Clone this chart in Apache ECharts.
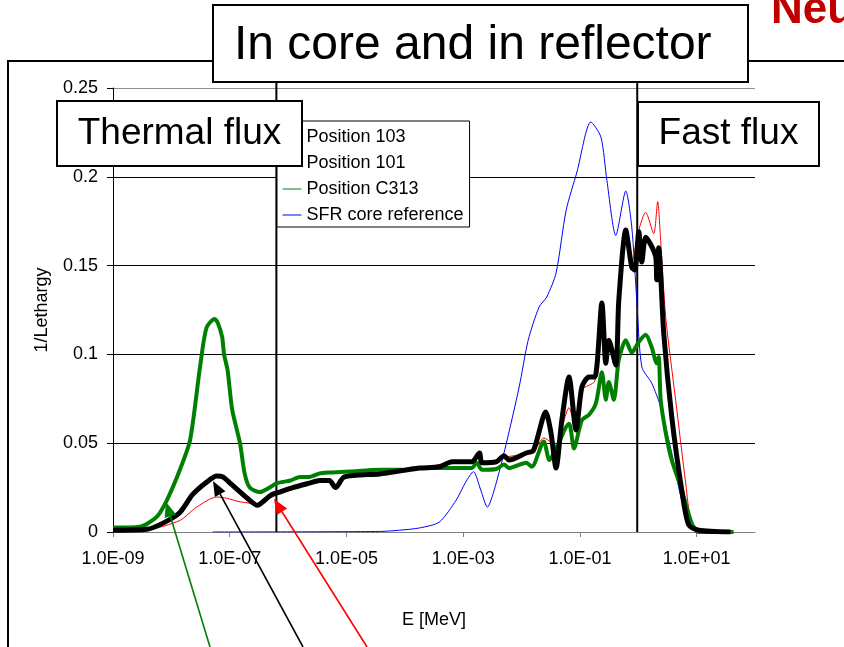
<!DOCTYPE html>
<html><head><meta charset="utf-8">
<script src="https://cdn.jsdelivr.net/npm/echarts@6/dist/echarts.min.js"></script>
<style>html,body{margin:0;padding:0;background:#fff}#c{width:844px;height:647px}</style>
</head><body><div id="c"></div>
<script>
// ---- data (E in MeV, flux per unit lethargy) ----
const seriesNames = ['Position 103', 'Position 101', 'Position C313', 'SFR core reference'];
const xTickValues = [1e-9, 1e-7, 1e-5, 1e-3, 1e-1, 1e1];
const yTickStep = 0.05;

const pos103E = [1.0e-9, 3.8e-9, 1.4e-8, 2.7e-8, 6.0e-8, 8.9e-8, 1.5e-7, 2.9e-7, 4.3e-7, 6.4e-7, 1.2e-6, 2.3e-6, 5.1e-6, 6.5e-6, 9.2e-6, 3.7e-5, 8.1e-5, 1.8e-4, 6.5e-4, 1.4e-3, 1.9e-3, 2.1e-3, 5.0e-3, 1.2e-2, 1.6e-2, 2.4e-2, 3.2e-2, 3.9e-2, 4.9e-2, 6.5e-2, 8.6e-2, 0.108, 0.180, 0.238, 0.278, 0.313, 0.412, 0.464, 0.611, 0.774, 1.02, 1.34, 1.84, 2.15, 2.42, 2.95, 4.38, 6.49, 8.22, 12.2, 38.1];
const pos103V = [0.0, 0.001, 0.0065, 0.014, 0.0197, 0.019, 0.017, 0.016, 0.018, 0.021, 0.024, 0.027, 0.0285, 0.025, 0.0305, 0.032, 0.034, 0.0355, 0.039, 0.039, 0.044, 0.0385, 0.042, 0.044, 0.045, 0.053, 0.05, 0.038, 0.058, 0.070, 0.057, 0.080, 0.085, 0.115, 0.095, 0.108, 0.095, 0.13, 0.165, 0.152, 0.170, 0.180, 0.168, 0.186, 0.164, 0.121, 0.074, 0.0276, 0.005, 0.001, 0.0];

const pos101E = [1.0e-9, 3.8e-9, 7.2e-9, 1.4e-8, 2.3e-8, 4.0e-8, 6.0e-8, 7.6e-8, 1.1e-7, 2.0e-7, 3.0e-7, 3.7e-7, 5.2e-7, 7.2e-7, 1.2e-6, 2.3e-6, 3.5e-6, 5.1e-6, 6.5e-6, 9.2e-6, 3.7e-5, 8.1e-5, 1.8e-4, 3.9e-4, 6.5e-4, 1.4e-3, 1.9e-3, 2.1e-3, 3.7e-3, 5.0e-3, 6.1e-3, 1.2e-2, 1.6e-2, 2.6e-2, 3.2e-2, 3.9e-2, 4.9e-2, 6.5e-2, 8.6e-2, 0.108, 0.143, 0.180, 0.238, 0.278, 0.313, 0.412, 0.464, 0.611, 0.774, 0.871, 1.02, 1.15, 1.34, 1.99, 2.07, 2.24, 2.73, 3.74, 5.55, 7.30, 10.8, 38.1];
const pos101V = [0.001, 0.0015, 0.005, 0.011, 0.021, 0.028, 0.0315, 0.031, 0.0265, 0.019, 0.015, 0.017, 0.021, 0.0225, 0.025, 0.0275, 0.029, 0.029, 0.025, 0.031, 0.0327, 0.0343, 0.036, 0.0367, 0.0395, 0.0395, 0.0445, 0.039, 0.0395, 0.043, 0.0405, 0.0445, 0.046, 0.0676, 0.0557, 0.036, 0.063, 0.0873, 0.0574, 0.0816, 0.0873, 0.0873, 0.129, 0.095, 0.108, 0.094, 0.1306, 0.170, 0.149, 0.1475, 0.169, 0.152, 0.166, 0.155, 0.142, 0.160, 0.112, 0.065, 0.0237, 0.004, 0.001, 0.0];

const posC313E = [1.0e-9, 2.9e-9, 5.6e-9, 8.4e-9, 1.4e-8, 2.1e-8, 3.1e-8, 4.0e-8, 5.5e-8, 6.2e-8, 7.4e-8, 8.0e-8, 9.2e-8, 1.1e-7, 1.5e-7, 1.8e-7, 2.2e-7, 3.3e-7, 4.8e-7, 6.4e-7, 1.1e-6, 1.6e-6, 2.3e-6, 3.5e-6, 5.1e-6, 1.1e-5, 3.7e-5, 8.1e-5, 1.8e-4, 1.4e-3, 1.7e-3, 2.1e-3, 3.7e-3, 5.0e-3, 6.1e-3, 1.2e-2, 1.5e-2, 2.4e-2, 3.0e-2, 3.6e-2, 6.5e-2, 7.9e-2, 0.108, 0.143, 0.188, 0.238, 0.278, 0.313, 0.381, 0.464, 0.611, 0.774, 1.02, 1.34, 1.70, 2.07, 2.24, 2.42, 2.95, 3.74, 5.55, 8.22, 10.8, 16.0, 42.9];
const posC313V = [0.0025, 0.003, 0.0085, 0.018, 0.035, 0.052, 0.093, 0.115, 0.120, 0.118, 0.110, 0.100, 0.091, 0.069, 0.050, 0.033, 0.025, 0.0225, 0.025, 0.0275, 0.029, 0.031, 0.031, 0.033, 0.0335, 0.034, 0.035, 0.035, 0.036, 0.036, 0.039, 0.035, 0.0355, 0.038, 0.036, 0.039, 0.0367, 0.051, 0.0405, 0.0445, 0.061, 0.047, 0.063, 0.066, 0.0725, 0.090, 0.0745, 0.0845, 0.0745, 0.097, 0.108, 0.101, 0.107, 0.111, 0.104, 0.095, 0.0985, 0.0745, 0.056, 0.0405, 0.0237, 0.005, 0.0, 0.0, 0.0];

const sfrE = [5.1e-8, 3.7e-5, 8.1e-5, 1.8e-4, 3.9e-4, 7.6e-4, 1.1e-3, 1.5e-3, 2.0e-3, 2.6e-3, 3.4e-3, 5.4e-3, 9.1e-3, 1.3e-2, 2.0e-2, 2.7e-2, 3.9e-2, 5.8e-2, 8.9e-2, 0.154, 0.229, 0.290, 0.412, 0.611, 0.774, 0.942, 1.15, 1.70, 2.42, 3.74, 5.55, 8.22, 12.2, 35.2];
const sfrV = [0.0, 0.0003, 0.001, 0.0023, 0.0056, 0.018, 0.028, 0.034, 0.0236, 0.014, 0.0236, 0.049, 0.0816, 0.108, 0.1267, 0.1323, 0.1458, 0.181, 0.2027, 0.2309, 0.2224, 0.198, 0.167, 0.192, 0.1717, 0.1306, 0.093, 0.0838, 0.0704, 0.0445, 0.018, 0.004, 0.001, 0.0];

// thermal / fast boundary energies (MeV)
const thermalBoundaryE = 6.3e-7;
const fastBoundaryE = 0.96;

// ---- chart ----
const FONT = 'Liberation Sans, Arial, sans-serif';
const zip = (E, V) => E.map((e, i) => [e, V[i]]);
const fmtE = v => {
  const e = Math.round(Math.log10(v));
  return '1.0E' + (e < 0 ? '-' : '+') + String(Math.abs(e)).padStart(2, '0');
};

const chart = echarts.init(document.getElementById('c'), null, {renderer: 'canvas'});
const option = {
  animation: false,
  backgroundColor: '#fff',
  textStyle: {fontFamily: FONT},
  grid: {left: 113, right: 89, top: 88, bottom: 115, containLabel: false, outerBoundsMode: 'none'},
  legend: {
    data: seriesNames,
    orient: 'vertical',
    left: 277, top: 121,
    padding: [6, 6, 2, 5],
    itemGap: 6,
    itemWidth: 19, itemHeight: 14,
    backgroundColor: '#fff',
    borderColor: '#000', borderWidth: 1, borderRadius: 0,
    textStyle: {fontFamily: FONT, fontSize: 18, color: '#000', lineHeight: 20},
    lineStyle: {width: 1},
    itemStyle: {color: 'rgba(0,0,0,0)', borderWidth: 0, opacity: 0},
    selectedMode: false
  },
  xAxis: {
    type: 'log', logBase: 10, min: 1e-9, max: 100,
    name: 'E [MeV]', nameLocation: 'middle', nameGap: 79,
    nameTextStyle: {fontFamily: FONT, fontSize: 18, color: '#000'},
    axisLine: {show: true, onZero: false, lineStyle: {color: '#808080', width: 1}},
    axisTick: {show: true, length: 5, lineStyle: {color: '#808080'}, customValues: xTickValues},
    axisLabel: {fontFamily: FONT, fontSize: 18, color: '#000', margin: 18, formatter: fmtE, customValues: xTickValues},
    splitLine: {show: false},
    minorTick: {show: false}, minorSplitLine: {show: false}
  },
  yAxis: {
    type: 'value', min: 0, max: 0.25, interval: yTickStep,
    name: '1/Lethargy', nameLocation: 'middle', nameGap: 62, nameRotate: 90,
    nameTextStyle: {fontFamily: FONT, fontSize: 18, color: '#000'},
    axisLine: {show: true, lineStyle: {color: '#000', width: 1}},
    axisTick: {show: true, inside: false, length: 6, lineStyle: {color: '#000'}},
    axisLabel: {fontFamily: FONT, fontSize: 18, color: '#000', margin: 15},
    splitLine: {show: true, lineStyle: {color: ['#808080', '#000', '#000', '#000', '#000', '#909090'], width: 1}}
  },
  series: [
    {name: seriesNames[0], type: 'line', data: zip(pos103E, pos103V), symbol: 'none', smooth: 0.25, z: 3,
     lineStyle: {color: '#FF0000', width: 1}, itemStyle: {color: '#FF0000'}},
    {name: seriesNames[1], type: 'line', data: zip(pos101E, pos101V), symbol: 'none', smooth: 0.25, z: 5,
     lineStyle: {color: '#000000', width: 5}, itemStyle: {color: '#000000'}},
    {name: seriesNames[2], type: 'line', data: zip(posC313E, posC313V), symbol: 'none', smooth: 0.25, z: 4,
     lineStyle: {color: '#008000', width: 4}, itemStyle: {color: '#008000'}},
    {name: seriesNames[3], type: 'line', data: zip(sfrE, sfrV), symbol: 'none', smooth: 0.25, z: 2,
     lineStyle: {color: '#0000FF', width: 1}, itemStyle: {color: '#0000FF'}}
  ]
};
chart.setOption(option);

// ---- annotations (slide shapes) ----
const pT = chart.convertToPixel({gridIndex: 0}, [thermalBoundaryE, 0]);
const pF = chart.convertToPixel({gridIndex: 0}, [fastBoundaryE, 0]);

function arrow(x1, y1, x2, y2, color) {
  const dx = x2 - x1, dy = y2 - y1, L = Math.hypot(dx, dy), ux = dx / L, uy = dy / L;
  const hl = 15, hw = 6;
  const bx = x2 - ux * hl, by = y2 - uy * hl;
  return [
    {type: 'line', z: 60, shape: {x1: x1, y1: y1, x2: bx, y2: by}, style: {stroke: color, lineWidth: 1.6}},
    {type: 'polygon', z: 60, shape: {points: [[x2, y2], [bx - uy * hw, by + ux * hw], [bx + uy * hw, by - ux * hw]]}, style: {fill: color}}
  ];
}
function box(x, y, w, h, text, size, tx, ty) {
  return [
    {type: 'rect', z: 100, shape: {x: x, y: y, width: w, height: h}, style: {fill: '#fff', stroke: '#000', lineWidth: 2}},
    {type: 'text', z: 101, x: tx != null ? tx : x + w / 2, y: ty != null ? ty : y + h / 2,
     style: {text: text, fontFamily: FONT, fontSize: size, fill: '#000', align: tx != null ? 'left' : 'center', verticalAlign: 'middle'}}
  ];
}

const g = [];
// outer frame
g.push({type: 'polyline', z: 1, shape: {points: [[8, 647], [8, 61], [220, 61]]}, style: {stroke: '#000', lineWidth: 2, fill: null}});
g.push({type: 'line', z: 1, shape: {x1: 740, y1: 61, x2: 844, y2: 61}, style: {stroke: '#000', lineWidth: 2}});
// boundary lines
g.push({type: 'line', z: 1, shape: {x1: pT[0], y1: 82, x2: pT[0], y2: pT[1]}, style: {stroke: '#000', lineWidth: 2}});
g.push({type: 'line', z: 1, shape: {x1: pF[0], y1: 82, x2: pF[0], y2: pF[1]}, style: {stroke: '#000', lineWidth: 2}});
// boxes
g.push(...box(213, 5, 535, 77, 'In core and in reflector', 48, 234, 46));
g.push(...box(57, 101, 245, 65, 'Thermal flux', 37));
g.push(...box(638, 102, 181, 64, 'Fast flux', 37));
// red title fragment
g.push({type: 'text', z: 101, x: 771, y: 11, style: {text: 'Neu', fontFamily: FONT, fontSize: 44, fontWeight: 'bold', fill: '#C00000', align: 'left', verticalAlign: 'middle'}});
// arrows
g.push(...arrow(210, 647, 166, 502, '#008000'));
g.push(...arrow(303, 647, 213, 481, '#000000'));
g.push(...arrow(367, 647, 274, 499, '#FF0000'));

chart.setOption({graphic: {elements: g}});
</script>
</body></html>
